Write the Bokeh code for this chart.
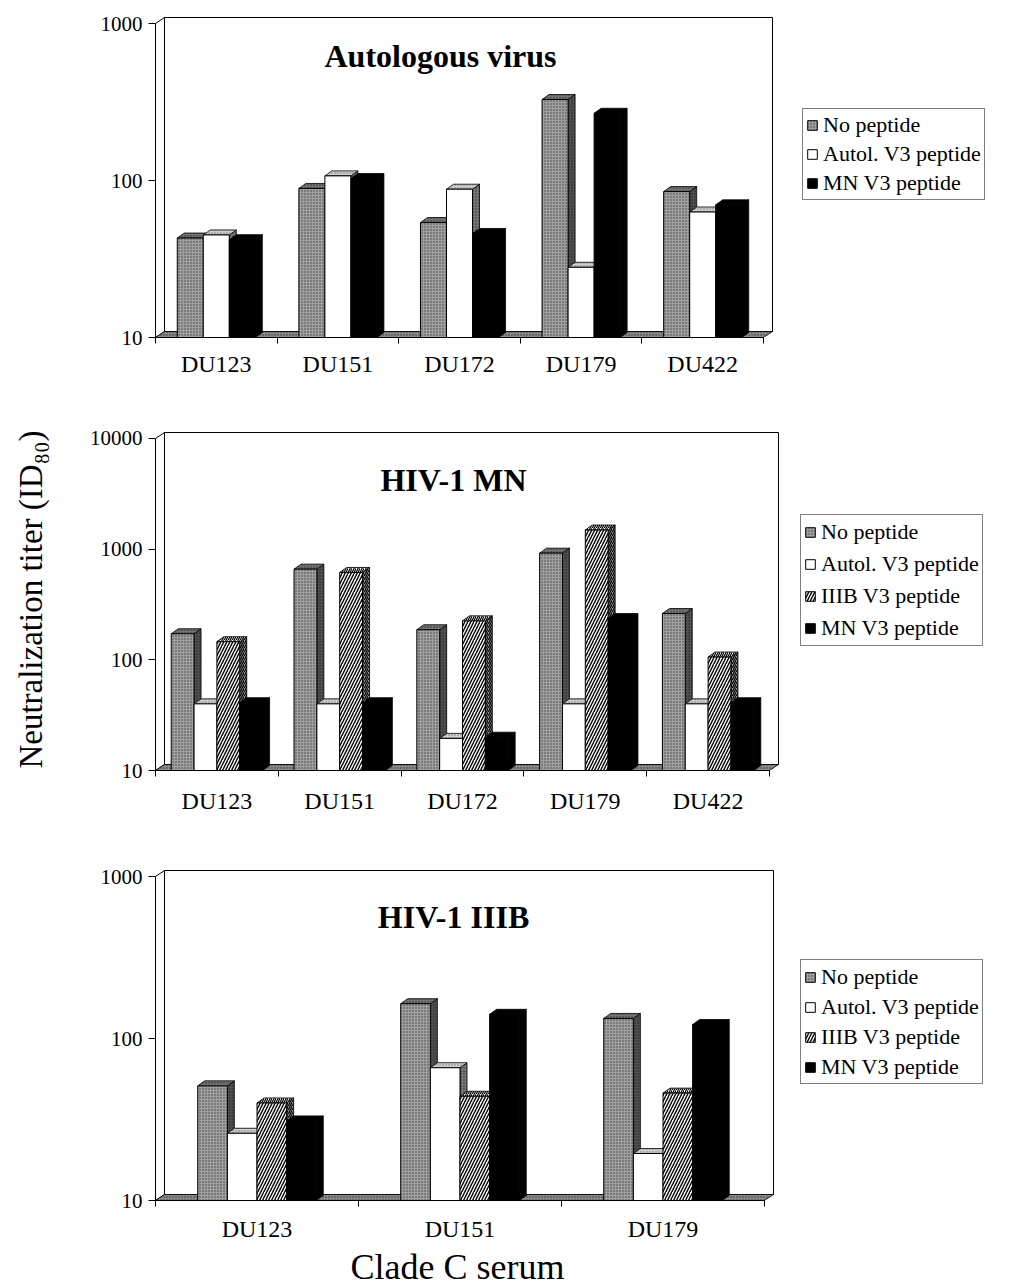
import math
from bokeh.plotting import figure
from bokeh.models import (Range1d, FixedTicker, CustomJSTickFormatter, Legend,
                          LegendItem, Label, Title)
from bokeh.layouts import column
from bokeh.embed import file_html
from bokeh.resources import INLINE

# ---------------- data ----------------
series_names_3 = ["No peptide", "Autol. V3 peptide", "MN V3 peptide"]
series_names_4 = ["No peptide", "Autol. V3 peptide", "IIIB V3 peptide", "MN V3 peptide"]

auto_cats = ["DU123", "DU151", "DU172", "DU179", "DU422"]
auto_no_peptide = [43, 89, 54, 328, 85]
auto_autol_v3 = [45, 107, 88, 28, 63]
auto_mn_v3 = [42, 103, 46, 268, 70]

mn_cats = ["DU123", "DU151", "DU172", "DU179", "DU422"]
mn_no_peptide = [172, 660, 187, 920, 262]
mn_autol_v3 = [40, 40, 19.5, 40, 40]
mn_iiib_v3 = [146, 616, 225, 1490, 106]
mn_mn_v3 = [41, 41, 20, 236, 41]

iiib_cats = ["DU123", "DU151", "DU179"]
iiib_no_peptide = [51, 164, 133]
iiib_autol_v3 = [26, 66, 19.5]
iiib_iiib_v3 = [40, 44, 46]
iiib_mn_v3 = [31, 141, 122]

y_axis_title = "Neutralization titer (ID₈₀)"
x_axis_title = "Clade C serum"

# ---------------- styles ----------------
SERIF = "Liberation Serif"
FIG_W = 1010
BORDER_L = 155
FRAME_W = FIG_W - BORDER_L
BAR_DX, BAR_DY = 7, 5
WALL_DX, WALL_DY = 9, 6

STYLES = {
    "No peptide": dict(
        front=dict(fill_color="#a0a0a0", hatch_pattern="dot", hatch_scale=3, hatch_color="#404040", hatch_weight=1),
        top=dict(fill_color="#737373", hatch_pattern="dot", hatch_scale=3, hatch_color="#333333", hatch_weight=1),
        side=dict(fill_color="#505050", hatch_pattern="dot", hatch_scale=3, hatch_color="#222222", hatch_weight=1)),
    "Autol. V3 peptide": dict(
        front=dict(fill_color="white"),
        top=dict(fill_color="#cfcfcf", hatch_pattern="dot", hatch_scale=3, hatch_color="#777777", hatch_weight=1),
        side=dict(fill_color="#777777", hatch_pattern="dot", hatch_scale=3, hatch_color="#333333", hatch_weight=1)),
    "IIIB V3 peptide": dict(
        front=dict(fill_color="white", hatch_pattern="right_diagonal_line", hatch_scale=6, hatch_color="black", hatch_weight=1.4),
        top=dict(fill_color="white", hatch_pattern="right_diagonal_line", hatch_scale=4, hatch_color="black", hatch_weight=1.2),
        side=dict(fill_color="#9a9a9a", hatch_pattern="right_diagonal_line", hatch_scale=4, hatch_color="black", hatch_weight=1.2)),
    "MN V3 peptide": dict(
        front=dict(fill_color="black"),
        top=dict(fill_color="black"),
        side=dict(fill_color="black")),
}
FLOOR = dict(fill_color="#8a8a8a", hatch_pattern="dot", hatch_scale=3, hatch_color="#333333", hatch_weight=1)


def make_panel(cats, names, values, title, cfg):
    n = len(cats)
    nb = len(values)
    ppc = cfg["ppc"]
    dec = cfg["decade"]
    fh = cfg["frame_h"]
    y_end = 10 ** (1 + fh / dec)
    x_end = FRAME_W / ppc
    ytop = cfg["ytop"]
    p = figure(width=FIG_W, height=cfg["top"] + fh + cfg["bottom"], x_range=Range1d(0, x_end),
               y_range=Range1d(10, y_end), y_axis_type="log",
               output_backend="svg", toolbar_location=None,
               min_border_left=BORDER_L, min_border_right=0,
               min_border_top=cfg["top"], min_border_bottom=cfg["bottom"])
    p.outline_line_color = None
    p.grid.visible = False
    p.background_fill_color = "white"

    bdx = BAR_DX / ppc
    bk = 10 ** (BAR_DY / dec)
    wdx = WALL_DX / ppc
    wk = 10 ** (WALL_DY / dec)

    # walls and floor
    p.patch([0, 0, wdx, wdx], [10, ytop, ytop * wk, 10 * wk], fill_color="white",
            line_color="black", line_width=1)
    p.quad(left=[wdx], right=[n + wdx], bottom=[10 * wk], top=[ytop * wk],
           fill_color="white", line_color="black", line_width=1)
    p.patch([0, n, n + wdx, wdx], [10, 10, 10 * wk, 10 * wk], line_color="black",
            line_width=0.8, **FLOOR)

    bw = cfg["bw"]
    legend_items = []
    for j, (name, vals) in enumerate(zip(names, values)):
        st = STYLES[name]
        lefts = [i + (1 - nb * bw) / 2 + j * bw for i in range(n)]
        rights = [l + bw for l in lefts]
        side_xs = [[r, r + bdx, r + bdx, r] for r in rights]
        side_ys = [[10, 10 * bk, v * bk, v] for v in vals]
        top_xs = [[l, r, r + bdx, l + bdx] for l, r in zip(lefts, rights)]
        top_ys = [[v, v, v * bk, v * bk] for v in vals]
        p.patches(side_xs, side_ys, line_color="black", line_width=0.8, **st["side"])
        p.patches(top_xs, top_ys, line_color="black", line_width=0.8, **st["top"])
        fr = p.quad(left=lefts, right=rights, bottom=[10] * n, top=vals,
                    line_color="black", line_width=1, **st["front"])
        legend_items.append(LegendItem(label=name, renderers=[fr]))

    # axes
    ya = p.yaxis[0]
    ya.ticker = FixedTicker(ticks=[10 ** k for k in range(1, int(round(math.log10(ytop))) + 1)])
    ya.formatter = CustomJSTickFormatter(code="return tick.toFixed(0);")
    ya.bounds = (10, ytop)
    ya.major_tick_out = 7
    ya.major_tick_in = 0
    ya.minor_tick_out = 0
    ya.minor_tick_in = 0
    ya.major_label_standoff = 6
    ya.major_label_text_font = SERIF
    ya.major_label_text_font_size = "21px"
    ya.major_label_text_color = "black"
    ya.axis_line_color = "black"

    xa = p.xaxis[0]
    xa.ticker = FixedTicker(ticks=[i + 0.5 for i in range(n)], minor_ticks=list(range(n + 1)))
    xa.formatter = CustomJSTickFormatter(args=dict(labels=cats),
                                         code="const i = Math.floor(tick); return (i >= 0 && i < labels.length) ? labels[i] : '';")
    xa.bounds = (0, n)
    xa.major_tick_out = 0
    xa.major_tick_in = 0
    xa.minor_tick_out = 6
    xa.minor_tick_in = 0
    xa.major_label_standoff = cfg["xstand"]
    xa.major_label_text_font = SERIF
    xa.major_label_text_font_size = "24px"
    xa.major_label_text_color = "black"
    xa.axis_line_color = "black"

    # title
    p.add_layout(Label(x=cfg["title_x"] - BORDER_L, y=cfg["title_y"], x_units="screen", y_units="screen",
                       text=title, text_font=SERIF, text_font_style="bold",
                       text_font_size="32px", text_align="center",
                       text_baseline="alphabetic", text_color="black"))

    leg = Legend(items=legend_items, location=cfg["legend_loc"],
                 border_line_color="black", border_line_width=1,
                 background_fill_color="white", background_fill_alpha=1,
                 label_text_font=SERIF, label_text_font_size="22px",
                 label_text_color="black", glyph_width=12, glyph_height=12,
                 label_height=cfg["lh"], spacing=cfg["sp"], padding=3, margin=0,
                 label_standoff=5)
    p.add_layout(leg)
    return p


p1 = make_panel(auto_cats, series_names_3, [auto_no_peptide, auto_autol_v3, auto_mn_v3],
                "Autologous virus",
                dict(ppc=121.6, decade=157, frame_h=325, top=12, bottom=87, bw=0.214,
                     ytop=1000, title_x=440, title_y=282, legend_loc=(647, 137),
                     lh=26, sp=3, xstand=7))
p2 = make_panel(mn_cats, series_names_4, [mn_no_peptide, mn_autol_v3, mn_iiib_v3, mn_mn_v3],
                "HIV-1 MN",
                dict(ppc=122.8, decade=110.67, frame_h=342, top=4, bottom=92, bw=0.186,
                     ytop=10000, title_x=453, title_y=291, legend_loc=(645, 124),
                     lh=28, sp=4, xstand=11))
p3 = make_panel(iiib_cats, series_names_4, [iiib_no_peptide, iiib_autol_v3, iiib_iiib_v3, iiib_mn_v3],
                "HIV-1 IIIB",
                dict(ppc=203, decade=162, frame_h=334, top=4, bottom=86, bw=0.146,
                     ytop=1000, title_x=453, title_y=284, legend_loc=(645, 116),
                     lh=27, sp=3, xstand=9))

ya2 = p2.yaxis[0]
ya2.axis_label = y_axis_title
ya2.axis_label_text_font = SERIF
ya2.axis_label_text_font_size = "33px"
ya2.axis_label_text_font_style = "normal"
ya2.axis_label_text_color = "black"
ya2.axis_label_standoff = 38

# x-axis title, centred under the category axis (not the whole frame)
xt_font = 36
xt_est_width = 5.94 * xt_font
p3.add_layout(Title(text=x_axis_title, align="left", offset=457 - xt_est_width / 2 - BORDER_L,
                    standoff=0, text_font=SERIF, text_font_size=f"{xt_font}px",
                    text_font_style="normal", text_color="black"), "below")

layout = column(p1, p2, p3)
open("out.html", "w").write(file_html(layout, INLINE))
